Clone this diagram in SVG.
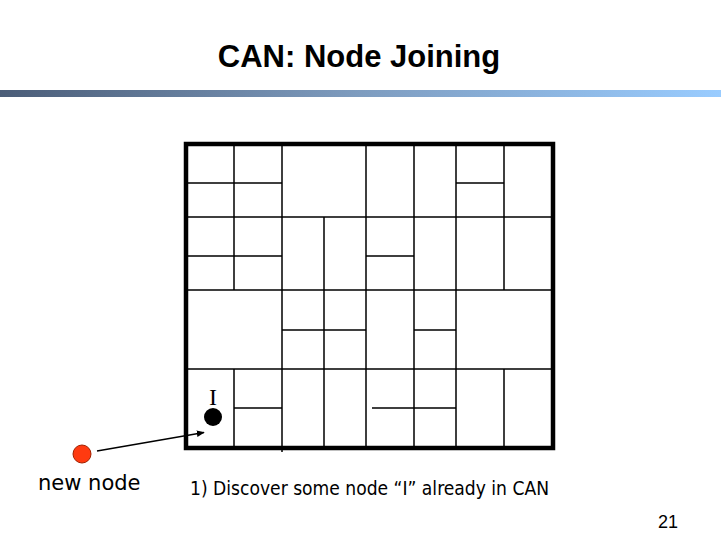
<svg xmlns="http://www.w3.org/2000/svg" width="721" height="541" viewBox="0 0 721 541">
<defs>
<linearGradient id="bar" x1="0" y1="0" x2="1" y2="0">
<stop offset="0" stop-color="#4b5d78"/>
<stop offset="0.5" stop-color="#7e9cbf"/>
<stop offset="1" stop-color="#99ccff"/>
</linearGradient>
<marker id="ah" viewBox="0 0 10 10" refX="9" refY="5" markerWidth="8" markerHeight="8" markerUnits="userSpaceOnUse" orient="auto">
<path d="M0,1 L10,5 L0,9 Z" fill="#000"/>
</marker>
<style>
.g{stroke:#000;stroke-width:1.5;fill:none}
.b{stroke:#000;stroke-width:4.5;fill:none}
.t{font-family:"DejaVu Sans","Liberation Sans",sans-serif;fill:#000}
</style>
</defs>
<rect width="721" height="541" fill="#fff"/>
<text x="359" y="67" text-anchor="middle" font-family="Liberation Sans, Arial, sans-serif" font-weight="bold" font-size="31">CAN: Node Joining</text>
<rect x="0" y="90" width="721" height="7" fill="url(#bar)"/>
<g id="can-space">
<path class="g" d="M234,144V290M234,369V448M282,144V452M324,217V448M366,144V448M414,144V448M456,144V448M504,144V290M504,369V448"/>
<path class="g" d="M186,183H282M456,183H504M186,217H553M186,256H282M366,256H414M186,290H553M282,330H366M414,330H456M186,369H553M234,408H282M372,408H456"/>
<rect class="b" x="186" y="144" width="367" height="304"/>
</g>
<g id="node-I">
<text x="213" y="405" text-anchor="middle" font-family="Liberation Serif, Times New Roman, serif" font-size="24">I</text>
<circle cx="213" cy="417" r="9" fill="#000"/>
</g>
<g id="node-new">
<circle cx="82" cy="454" r="9" fill="#ff3a10" stroke="#a02000" stroke-width="1"/>
<text class="t" x="38" y="490" font-size="21">new node</text>
</g>
<g id="connectors">
<line x1="97" y1="451" x2="204" y2="432.5" stroke="#000" stroke-width="1.5" marker-end="url(#ah)"/>
</g>
<text x="190" y="495" font-family="DejaVu Sans Condensed, DejaVu Sans, sans-serif" font-stretch="condensed" font-size="20" textLength="359" lengthAdjust="spacingAndGlyphs">1) Discover some node “I” already in CAN</text>
<text x="678" y="528" text-anchor="end" font-family="Liberation Sans, Arial, sans-serif" font-size="18">21</text>
</svg>
